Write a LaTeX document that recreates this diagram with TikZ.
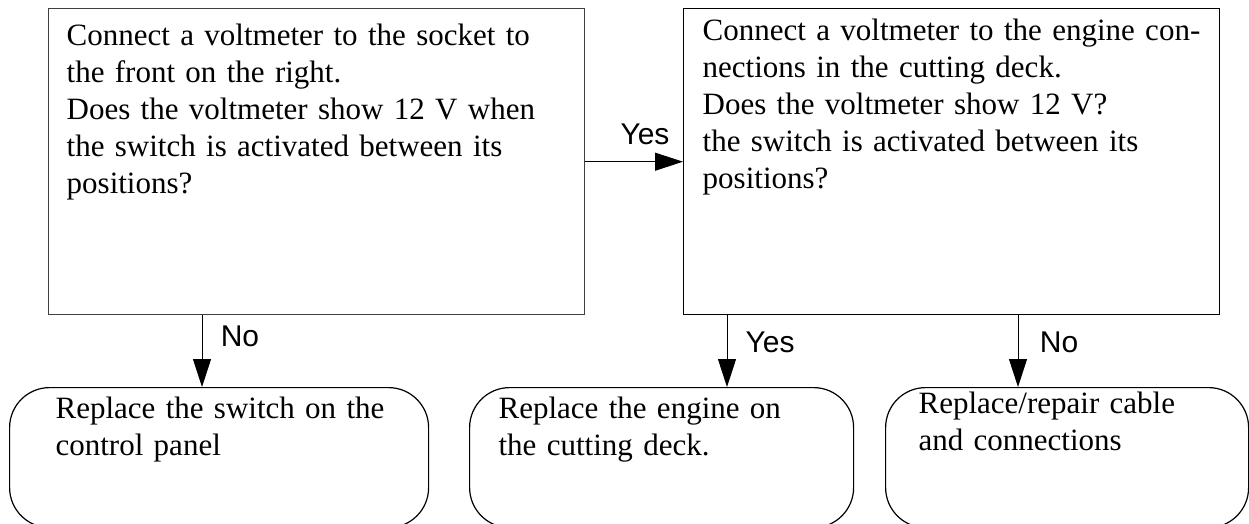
\documentclass[tikz,border=0pt]{standalone}
\usepackage{fontspec}
\setmainfont{Liberation Serif}
\newfontfamily\labelfont{Liberation Sans}
\usetikzlibrary{arrows.meta,positioning}

\begin{document}
\begin{tikzpicture}[
  x=1pt, y=-1pt,
  question/.style={draw, anchor=north west, align=left, text width=#1,
                   font=\fontsize{31}{37}\selectfont, text height=22pt,
                   line width=1.4pt},
  action/.style={draw, rounded corners=40pt, anchor=north west, align=left,
                 text width=#1, font=\fontsize{31}{37}\selectfont,
                 text height=22pt, line width=1.2pt},
  answer/.style={font=\labelfont\fontsize{30}{36}\selectfont, inner sep=0pt},
  >={Triangle[length=28pt,width=18pt]}, line width=1pt
]
  \useasboundingbox (0,0) rectangle (1249,524);

  % the two checks
  \node[question=500pt, draw=black!75, inner xsep=18pt, inner ysep=15pt,
        text depth=254pt] (q1) at (48,8)
      {\mbox{Connect a voltmeter to the socket to}\\
       \mbox{the front on the right.}\\
       \mbox{Does the voltmeter show 12 V when}\\
       \mbox{the switch is activated between its}\\
       positions?};
  \node[question=498pt, inner xsep=19pt, inner ysep=10pt,
        text depth=264pt] (q2) at (683,8)
      {\mbox{Connect a voltmeter to the engine con-}\\
       \mbox{nections in the cutting deck.}\\
       \mbox{Does the voltmeter show 12 V?}\\
       \mbox{the switch is activated between its}\\
       positions?};

  % what to do
  \node[action=327pt, inner xsep=46pt, inner ysep=9pt, text depth=100pt]
      (r1) at (9,387) {\mbox{Replace the switch on the}\\ control panel};
  \node[action=326pt, inner xsep=29pt, inner ysep=9pt, text depth=100pt]
      (r2) at (469,387) {\mbox{Replace the engine on}\\ the cutting deck.};
  \node[action=297pt, inner xsep=33pt, inner ysep=4pt, text depth=110pt]
      (r3) at (885,387) {\mbox{Replace/repair cable}\\ and connections};

  % connectors
  \draw[->] (q1.east) -- (q2.west);
  \draw[->] ([xshift=154pt]q1.south west) -- ([xshift=154pt]q1.south west |- r1.north);
  \draw[->] ([xshift=44pt]q2.south west) -- ([xshift=44pt]q2.south west |- r2.north);
  \draw[->] ([xshift=335pt]q2.south west) -- ([xshift=335pt]q2.south west |- r3.north);

  \node[answer] (yes1) at (645,134) {Yes};
  \node[answer] (no1)  at (240,336) {No};
  \node[answer] (yes2) at (770,342) {Yes};
  \node[answer] (no2)  at (1059,342) {No};
\end{tikzpicture}
\end{document}
